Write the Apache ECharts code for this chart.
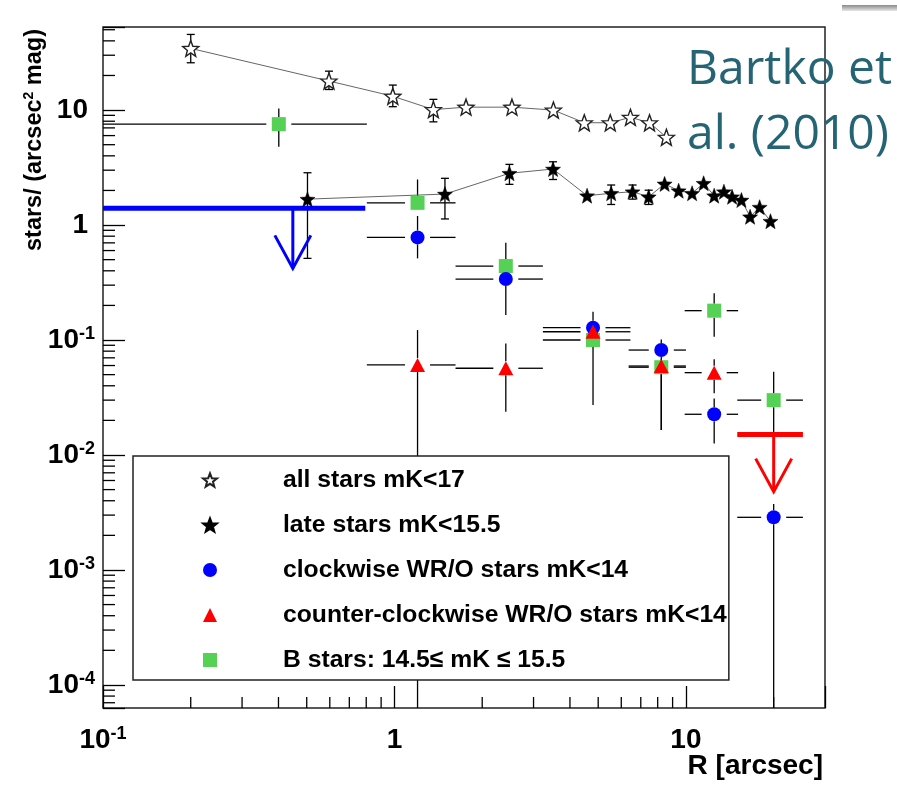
<!DOCTYPE html>
<html><head><meta charset="utf-8">
<script src="https://cdn.jsdelivr.net/npm/echarts@6/dist/echarts.min.js"></script>
<style>html,body{margin:0;padding:0;background:#fff}#c{width:897px;height:787px}</style>
</head><body><div id="c"></div>
<script>
// ---------------- data ----------------
const xMin = 0.1, xMax = 30;
const yMin = 6.3e-5, yMax = 52.8;
const xTickValues = [0.1, 1, 10];
const yTickValues = [1e-4, 1e-3, 1e-2, 1e-1, 1, 10];

const seriesNames = ['all stars mK<17', 'late stars mK<15.5', 'clockwise WR/O stars mK<14',
  'counter-clockwise WR/O stars mK<14', 'B stars: 14.5\u2264 mK \u2264 15.5'];

// all stars mK<17
const allR   = [0.2, 0.596, 0.987, 1.36, 1.76, 2.53, 3.51, 4.48, 5.50, 6.45, 7.50, 8.57];
const allVal = [34.4, 17.9, 13.2, 10.1, 10.6, 10.6, 10.0, 7.76, 7.76, 8.65, 7.76, 5.8];
const allLo  = [25.8, 15.1, 10.7, 7.9, null, null, null, null, null, null, null, null];
const allHi  = [45.5, 21.8, 16.5, 12.4, null, null, null, null, null, null, null, null];

// late stars mK<15.5
const lateR   = [0.503, 1.49, 2.48, 3.50, 4.58, 5.54, 6.56, 7.45, 8.45, 9.44, 10.5, 11.5, 12.5, 13.5, 14.4, 15.5, 16.6, 17.9, 19.5];
const lateVal = [1.68, 1.86, 2.82, 3.07, 1.80, 1.89, 1.95, 1.76, 2.28, 1.99, 1.89, 2.31, 1.80, 1.95, 1.76, 1.65, 1.18, 1.43, 1.08];
const lateLo  = [0.513, 1.13, 2.26, 2.49, null, 1.51, 1.68, 1.51, null, null, null, null, null, null, null, null, null, null, null];
const lateHi  = [2.85, 2.55, 3.37, 3.55, null, 2.23, 2.23, 2.01, null, null, null, null, null, null, null, null, null, null, null];

// clockwise WR/O
const cwR   = [1.2, 2.41, 4.80, 8.23, 12.5, 20.0];
const cwVal = [0.781, 0.339, 0.128, 0.0818, 0.0226, 0.00287];
const cwRLo = [0.804, 1.62, 3.23, 6.36, 9.9, 15.0];
const cwRHi = [1.62, 3.23, 6.45, 10.0, 15.1, 25.2];
const cwLo  = [0.513, 0.165, 0.11, 0.066, 0.0126, 1e-5];
const cwHi  = [1.2, 0.5, 0.176, 0.101, 0.031, 0.00375];
const cwLimitR = [0.1, 0.794, 0.448];   // from, to, arrow position
const cwLimitY = [1.40, 0.42];          // limit value, arrow tip

// counter-clockwise WR/O
const ccwR   = [1.2, 2.41, 4.80, 8.23, 12.5];
const ccwVal = [0.0607, 0.0568, 0.118, 0.0594, 0.052];
const ccwRLo = [0.804, 1.62, 3.23, 6.36, 9.9];
const ccwRHi = [1.62, 3.23, 6.45, 10.0, 15.1];
const ccwLo  = [1e-5, 0.0238, 0.1, 0.0165, 0.0344];
const ccwHi  = [0.122, 0.0935, 0.13, 0.068, 0.068];
const ccwLimitR = [15.0, 25.2, 20.0];
const ccwLimitY = [0.0151, 0.0048];

// B stars
const bR   = [0.401, 1.2, 2.41, 4.80, 8.23, 12.5, 20.0];
const bVal = [7.55, 1.56, 0.44, 0.100, 0.058, 0.18, 0.030];
const bRLo = [0.1, 0.804, 1.62, 3.23, 6.36, 9.9, 15.0];
const bRHi = [0.804, 1.62, 3.23, 6.45, 10.0, 15.1, 25.2];
const bLo  = [4.8, 1.45, 0.36, 0.0272, 0.0165, 0.107, 0.0151];
const bHi  = [10.3, 2.49, 0.70, 0.11, 0.068, 0.255, 0.053];

// ---------------- helpers ----------------
const FONT = 'Liberation Sans';
function starPath(inner) {
  const pts = [];
  for (let i = 0; i < 10; i++) {
    const r = i % 2 ? inner : 1;
    const a = -Math.PI / 2 + i * Math.PI / 5;
    pts.push((r * Math.cos(a)).toFixed(3) + ',' + (r * Math.sin(a)).toFixed(3));
  }
  return 'path://M' + pts.join('L') + 'Z';
}
const STAR = starPath(0.42);

function pairs(xs, ys) { return xs.map((x, i) => [x, ys[i]]); }
function errData(xs, ys, xl, xh, yl, yh) {
  return xs.map((x, i) => [x, ys[i], xl ? xl[i] : null, xh ? xh[i] : null, yl[i], yh[i]]);
}
function makeErr(hGap, vGap, cap) {
  return function (params, api) {
    const cs = params.coordSys;
    const L = cs.x, R = cs.x + cs.width, T = cs.y, B = cs.y + cs.height;
    const clx = v => Math.max(L, Math.min(R, v));
    const cly = v => Math.max(T, Math.min(B, v));
    const x = api.value(0), y = api.value(1);
    const c = api.coord([x, y]);
    const kids = [];
    const st = { stroke: '#000', lineWidth: 1.3 };
    const seg = (x1, y1, x2, y2) => kids.push({ type: 'line', shape: { x1, y1, x2, y2 }, style: st });
    const xl = api.value(2), xh = api.value(3), yl = api.value(4), yh = api.value(5);
    if (isFinite(xl)) { const p = clx(api.coord([xl, y])[0]); if (p < c[0] - hGap) seg(p, c[1], c[0] - hGap, c[1]); }
    if (isFinite(xh)) { const p = clx(api.coord([xh, y])[0]); if (p > c[0] + hGap) seg(c[0] + hGap, c[1], p, c[1]); }
    if (isFinite(yh)) { const p = cly(api.coord([x, yh])[1]); if (p < c[1] - vGap) { seg(c[0], c[1] - vGap, c[0], p); if (cap) seg(c[0] - cap, p, c[0] + cap, p); } }
    if (isFinite(yl)) { const p = cly(api.coord([x, yl])[1]); if (p > c[1] + vGap) { seg(c[0], c[1] + vGap, c[0], p); if (cap) seg(c[0] - cap, p, c[0] + cap, p); } }
    return { type: 'group', children: kids };
  };
}
function makeLimit(color) {
  return function (params, api) {
    const cs = params.coordSys;
    const clx = v => Math.max(cs.x, Math.min(cs.x + cs.width, v));
    const xl = api.value(0), xh = api.value(1), xa = api.value(2), yv = api.value(3), yt = api.value(4);
    const p0 = api.coord([xl, yv]), p1 = api.coord([xh, yv]), pa = api.coord([xa, yv]), pt = api.coord([xa, yt]);
    return { type: 'group', children: [
      { type: 'line', shape: { x1: clx(p0[0]), y1: p0[1], x2: clx(p1[0]), y2: p1[1] }, style: { stroke: color, lineWidth: 5 } },
      { type: 'line', shape: { x1: pa[0], y1: pa[1], x2: pt[0], y2: pt[1] }, style: { stroke: color, lineWidth: 3 } },
      { type: 'polyline', shape: { points: [[pt[0] - 18, pt[1] - 33], [pt[0], pt[1]], [pt[0] + 18, pt[1] - 33]] }, style: { stroke: color, lineWidth: 3, fill: null } }
    ] };
  };
}
function decadeList(lo, hi) {
  const out = [];
  for (let d = Math.floor(Math.log10(lo)) - 1; d <= Math.ceil(Math.log10(hi)); d++) {
    for (let k = 2; k <= 9; k++) { const v = k * Math.pow(10, d); if (v > lo * 1.0001 && v < hi * 0.9999) out.push(v); }
  }
  return out;
}
const xMinor = decadeList(xMin, xMax);
const yMinor = decadeList(yMin, yMax);

function isTick(v, list) { return list.some(t => Math.abs(Math.log10(v) - Math.log10(t)) < 1e-6); }
function powLabel(v, list, plainStyle) {
  if (!isTick(v, list)) return '';
  const e = Math.round(Math.log10(v));
  if (e === 0) return '{' + plainStyle + '|1}';
  if (e === 1) return '{' + plainStyle + '|10}';
  return '{b|10}{s|' + e + '}';
}
const labelRich = {
  b: { fontSize: 28, fontWeight: 'bold', fontFamily: FONT, color: '#000', lineHeight: 30 },
  bp: { fontSize: 28, fontWeight: 'bold', fontFamily: FONT, color: '#000', lineHeight: 30, padding: [0, 7, 0, 0] },
  s: { fontSize: 18, fontWeight: 'bold', fontFamily: FONT, color: '#000', lineHeight: 18, verticalAlign: 'top' }
};

// ---------------- chart ----------------
const chart = echarts.init(document.getElementById('c'), null, { renderer: 'canvas' });
const option = {
  animation: false,
  backgroundColor: '#fff',
  title: {
    text: 'Bartko et\nal. (2010)', left: 687, top: 38, padding: 0, z: 0,
    textStyle: { fontFamily: 'Open Sans', fontSize: 48, fontWeight: 'normal', color: '#246475', lineHeight: 65 }
  },
  graphic: [{
    type: 'rect', left: 842, top: 5, shape: { width: 55, height: 6 }, silent: true,
    style: { fill: new echarts.graphic.LinearGradient(0, 0, 0, 1, [{ offset: 0, color: '#8a8a8a' }, { offset: 1, color: '#e6e6e6' }]) }
  }],
  grid: { left: 103, top: 27, width: 722, height: 681, show: true, borderColor: '#222', borderWidth: 1.5, backgroundColor: 'transparent', containLabel: false },
  legend: {
    left: 133, top: 456, orient: 'vertical', z: 10,
    itemWidth: 14, itemHeight: 14, itemGap: 19,
    padding: [11, 2, 7, 69],
    backgroundColor: '#fff', borderColor: '#222', borderWidth: 1.5, borderRadius: 0,
    selectedMode: false,
    textStyle: { fontSize: 24.7, fontWeight: 'bold', fontFamily: FONT, color: '#000', lineHeight: 26, padding: [0, 0, 0, 61] },
    data: [
      { name: seriesNames[0], icon: STAR },
      { name: seriesNames[1], icon: STAR },
      { name: seriesNames[2], icon: 'circle' },
      { name: seriesNames[3], icon: 'triangle' },
      { name: seriesNames[4], icon: 'rect' }
    ]
  },
  xAxis: {
    type: 'log', logBase: 10, min: xMin, max: xMax,
    name: 'R [arcsec]', nameLocation: 'end', nameGap: -2, nameMoveOverlap: false,
    nameTextStyle: { fontSize: 28, fontWeight: 'bold', fontFamily: FONT, color: '#000', align: 'right', verticalAlign: 'top', padding: [44, 0, 0, 0] },
    axisLine: { show: false },
    axisTick: { show: true, inside: true, length: 22, lineStyle: { color: '#000', width: 1.3 } },
    splitLine: { show: false },
    axisLabel: { margin: 17, interval: 0, formatter: v => powLabel(v, xTickValues, 'b'), rich: labelRich }
  },
  yAxis: {
    type: 'log', logBase: 10, min: yMin, max: yMax,
    name: '{t|stars/ (arcsec}{s|2}{t| mag)}', nameLocation: 'end', nameRotate: 90, nameGap: -2, nameMoveOverlap: false,
    nameTextStyle: {
      align: 'right', verticalAlign: 'bottom', padding: [0, 0, 55, 0],
      rich: {
        t: { fontSize: 23.5, fontWeight: 'bold', fontFamily: FONT, color: '#000', lineHeight: 26 },
        s: { fontSize: 14, fontWeight: 'bold', fontFamily: FONT, color: '#000', lineHeight: 14, verticalAlign: 'top' }
      }
    },
    axisLine: { show: false },
    axisTick: { show: true, inside: true, length: 22, lineStyle: { color: '#000', width: 1.3 } },
    splitLine: { show: false },
    axisLabel: { margin: 8, interval: 0, formatter: v => powLabel(v, yTickValues, 'bp'), rich: labelRich }
  },
  series: [
    // minor ticks
    { type: 'custom', silent: true, z: 1, data: xMinor.map(v => [v, 1]),
      renderItem: (p, api) => { const cs = p.coordSys; const x = api.coord([api.value(0), 1])[0];
        return { type: 'line', shape: { x1: x, y1: cs.y + cs.height, x2: x, y2: cs.y + cs.height - 11 }, style: { stroke: '#000', lineWidth: 1.3 } }; } },
    { type: 'custom', silent: true, z: 1, data: yMinor.map(v => [1, v]),
      renderItem: (p, api) => { const cs = p.coordSys; const y = api.coord([1, api.value(1)])[1];
        return { type: 'line', shape: { x1: cs.x, y1: y, x2: cs.x + 12, y2: y }, style: { stroke: '#000', lineWidth: 1.3 } }; } },
    // error bars
    { name: 'err-all', type: 'custom', silent: true, z: 2, renderItem: makeErr(0, 0, 4), encode: { x: 0, y: 1 },
      data: errData(allR, allVal, null, null, allLo, allHi) },
    { name: 'err-late', type: 'custom', silent: true, z: 2, renderItem: makeErr(0, 0, 4), encode: { x: 0, y: 1 },
      data: errData(lateR, lateVal, null, null, lateLo, lateHi) },
    { name: 'err-b', type: 'custom', silent: true, z: 2, renderItem: makeErr(12.5, 7, 0), encode: { x: 0, y: 1 },
      data: errData(bR, bVal, bRLo, bRHi, bLo, bHi) },
    { name: 'err-cw', type: 'custom', silent: true, z: 2, renderItem: makeErr(12.5, 7, 0), encode: { x: 0, y: 1 },
      data: errData(cwR, cwVal, cwRLo, cwRHi, cwLo, cwHi) },
    { name: 'err-ccw', type: 'custom', silent: true, z: 2, renderItem: makeErr(12.5, 7, 0), encode: { x: 0, y: 1 },
      data: errData(ccwR, ccwVal, ccwRLo, ccwRHi, ccwLo, ccwHi) },
    // upper limits
    { name: 'lim-cw', type: 'custom', silent: true, z: 3, renderItem: makeLimit('#0000ff'), encode: { x: [0, 1, 2], y: [3, 4] },
      data: [cwLimitR.concat(cwLimitY)] },
    { name: 'lim-ccw', type: 'custom', silent: true, z: 3, renderItem: makeLimit('#ff0000'), encode: { x: [0, 1, 2], y: [3, 4] },
      data: [ccwLimitR.concat(ccwLimitY)] },
    // profiles
    { name: seriesNames[0], type: 'line', z: 4, data: pairs(allR, allVal), symbol: STAR, symbolSize: 16, showAllSymbol: true,
      lineStyle: { color: '#666', width: 1 }, itemStyle: { color: '#fff', borderColor: '#222', borderWidth: 1.4, opacity: 1 } },
    { name: seriesNames[1], type: 'line', z: 4, data: pairs(lateR, lateVal), symbol: STAR, symbolSize: 15, showAllSymbol: true,
      lineStyle: { color: '#666', width: 1 }, itemStyle: { color: '#000', borderColor: '#000', borderWidth: 0.5, opacity: 1 } },
    { name: seriesNames[4], type: 'scatter', z: 5, data: pairs(bR, bVal), symbol: 'rect', symbolSize: 14,
      itemStyle: { color: '#55d155', opacity: 1 } },
    { name: seriesNames[2], type: 'scatter', z: 6, data: pairs(cwR, cwVal), symbol: 'circle', symbolSize: 14,
      itemStyle: { color: '#0000ff', opacity: 1 } },
    { name: seriesNames[3], type: 'scatter', z: 7, data: pairs(ccwR, ccwVal), symbol: 'triangle', symbolSize: [15, 14],
      itemStyle: { color: '#ff0000', opacity: 1 } }
  ]
};
chart.setOption(option);
</script></body></html>
